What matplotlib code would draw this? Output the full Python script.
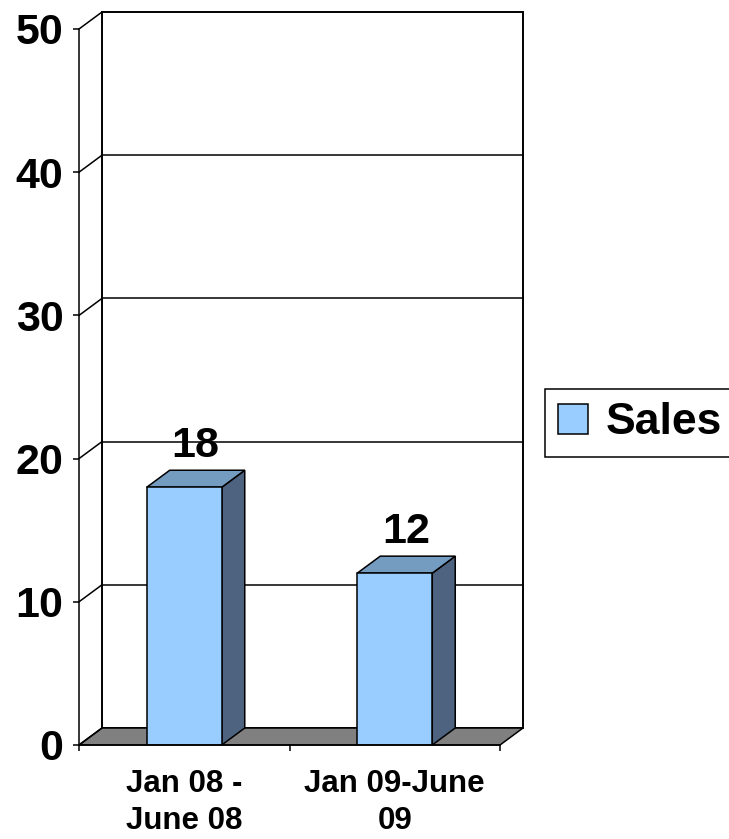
import matplotlib
matplotlib.use("Agg")
import matplotlib.pyplot as plt
from matplotlib.patches import Polygon, Patch

categories = ["Jan 08 -\nJune 08", "Jan 09-June\n09"]
series_name = "Sales"
values = [18, 12]
yticks = [0, 10, 20, 30, 40, 50]

FRONT = "#99ccff"
SIDE = "#4e6380"
TOP = "#749cc1"
FLOOR = "#808080"
FONT = "Liberation Sans"

W, H = 729, 839
fig = plt.figure(figsize=(W / 100, H / 100), dpi=100)
fig.patch.set_facecolor("white")

# axes = front plane
x0, x1, yb, yt = 79, 500, 745, 29
ax = fig.add_axes([x0 / W, 1 - yb / H, (x1 - x0) / W, (yb - yt) / H])
ax.set_xlim(-0.5, 1.5)
ax.set_ylim(0, 50)
ax.patch.set_visible(False)

# depth offset in data units (23 px right, 17 px up)
dx = 23 / (x1 - x0) * 2.0
dy = 17 / (yb - yt) * 50.0

lw = 1.1
# back wall
ax.add_patch(Polygon([(-0.5 + dx, dy), (1.5 + dx, dy), (1.5 + dx, 50 + dy), (-0.5 + dx, 50 + dy)],
                     closed=True, facecolor="white", edgecolor="black", lw=1.4, clip_on=False, zorder=1))
# floor
ax.add_patch(Polygon([(-0.5, 0), (1.5, 0), (1.5 + dx, dy), (-0.5 + dx, dy)],
                     closed=True, facecolor=FLOOR, edgecolor="black", lw=lw, clip_on=False, zorder=2))
# gridlines on back wall + side diagonals
for v in yticks:
    if 0 < v < 50:
        ax.plot([-0.5 + dx, 1.5 + dx], [v + dy, v + dy], color="black", lw=lw, clip_on=False, zorder=1.5)
    ax.plot([-0.5, -0.5 + dx], [v, v + dy], color="black", lw=lw, clip_on=False, zorder=2.5)

# bars
bw = 75 / (x1 - x0) * 2.0
xs = list(range(len(values)))
ax.bar(xs, values, width=bw, color=FRONT, edgecolor="black", lw=lw, zorder=4)
for i, v in zip(xs, values):
    r = i + bw / 2
    l = i - bw / 2
    ax.add_patch(Polygon([(r, 0), (r + dx, dy), (r + dx, v + dy), (r, v)], closed=True,
                         facecolor=SIDE, edgecolor="black", lw=lw, clip_on=False, zorder=3.5))
    ax.add_patch(Polygon([(l, v), (r, v), (r + dx, v + dy), (l + dx, v + dy)], closed=True,
                         facecolor=TOP, edgecolor="black", lw=lw, clip_on=False, zorder=3.5))
    ax.annotate(str(v), xy=(i + dx / 2, v + dy), xytext=(0, 9.5), textcoords="offset points",
                ha="center", va="baseline", fontsize=31, fontweight="bold", family=FONT,
                zorder=6, annotation_clip=False)

# spines / ticks
for s in ["top", "right"]:
    ax.spines[s].set_visible(False)
ax.spines["left"].set_linewidth(lw)
ax.spines["bottom"].set_linewidth(lw)
ax.spines["left"].set_zorder(5)
ax.spines["bottom"].set_zorder(5)

ax.set_yticks(yticks)
ax.set_yticklabels([str(t) for t in yticks])
ax.tick_params(axis="y", length=4.3, width=lw, pad=7, labelsize=31)
ax.set_xticks([-0.5, 0.5, 1.5])
ax.set_xticklabels([])
ax.set_xticks(xs, minor=True)
ax.set_xticklabels(categories, minor=True)
ax.tick_params(axis="x", which="major", length=4.3, width=lw)
ax.tick_params(axis="x", which="minor", length=0, pad=17, labelsize=22.5)
for lab in ax.get_yticklabels() + ax.get_xticklabels(minor=True):
    lab.set_fontfamily(FONT)
    lab.set_fontweight("bold")
for lab in ax.get_xticklabels(minor=True):
    lab.set_linespacing(1.3)

# legend
handle = Patch(facecolor=FRONT, edgecolor="black", lw=lw)
leg = fig.legend([handle], [series_name], loc="upper left",
                 bbox_to_anchor=(545 / W, 1 - 389 / H), borderaxespad=0,
                 prop={"family": FONT, "weight": "bold", "size": 32},
                 frameon=True, fancybox=False, edgecolor="black", framealpha=1,
                 borderpad=0.3, handlelength=0.66, handleheight=0.66, handletextpad=0.4)
leg.get_frame().set_linewidth(lw)

fig.savefig("out.png", dpi=100, facecolor="white")
